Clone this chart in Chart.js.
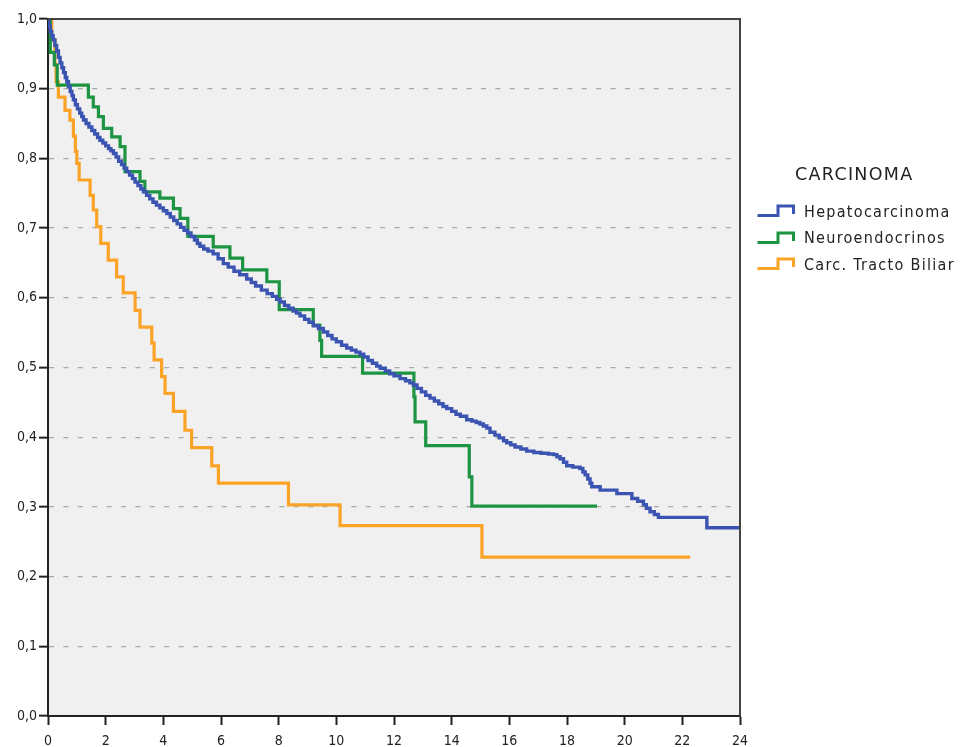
<!DOCTYPE html>
<html>
<head>
<meta charset="utf-8">
<script src="https://cdn.jsdelivr.net/npm/chart.js@4"></script>
<style>
  html, body { margin: 0; padding: 0; background: #ffffff; }
  #wrap { position: relative; width: 960px; height: 747px; }
  #legend { position: absolute; left: 756px; top: 160px; font-family: "DejaVu Sans Condensed", "DejaVu Sans", sans-serif; color: #222; }
  #legend .title { font-family: "DejaVu Sans", sans-serif; font-size: 17.5px; margin-left: 39px; height: 28px; line-height: 28px; letter-spacing: 1.3px; }
  #legend .item { display: flex; align-items: center; height: 26.5px; font-size: 16px; letter-spacing: 1.3px; white-space: nowrap; }
  #legend svg { margin-right: 8px; }
</style>
</head>
<body>
<div id="wrap">
  <canvas id="c" width="960" height="747"></canvas>
  <div id="legend">
    <div class="title">CARCINOMA</div>
    <div style="height:10px"></div>
    <div class="item"><svg width="40" height="16"><path d="M1.5,12.5 H22 V3 H37.5 V11" fill="none" stroke="#3b54b2" stroke-width="3"/></svg>Hepatocarcinoma</div>
    <div class="item"><svg width="40" height="16"><path d="M1.5,12.5 H22 V3 H37.5 V11" fill="none" stroke="#1c9442" stroke-width="3"/></svg>Neuroendocrinos</div>
    <div class="item"><svg width="40" height="16"><path d="M1.5,12.5 H22 V3 H37.5 V11" fill="none" stroke="#fba326" stroke-width="3"/></svg>Carc. Tracto Biliar</div>
  </div>
</div>
<script>
// ---- Data (time, cumulative survival) ----
const seriesNames = ["Hepatocarcinoma", "Neuroendocrinos", "Carc. Tracto Biliar"];
const xTicks = [0, 2, 4, 6, 8, 10, 12, 14, 16, 18, 20, 22, 24];

const hepTimes = [0, 0.03, 0.08, 0.13, 0.18, 0.24, 0.30, 0.36, 0.42, 0.48, 0.54, 0.60, 0.65, 0.71, 0.77, 0.83, 0.88, 0.95, 1.02, 1.10, 1.17, 1.23, 1.32, 1.42, 1.52, 1.62, 1.72, 1.80, 1.90, 2.00, 2.10, 2.18, 2.27, 2.36, 2.45, 2.55, 2.64, 2.73, 2.83, 2.93, 3.02, 3.12, 3.22, 3.31, 3.42, 3.53, 3.64, 3.76, 3.88, 4.00, 4.12, 4.24, 4.36, 4.48, 4.60, 4.72, 4.84, 4.96, 5.08, 5.18, 5.27, 5.40, 5.55, 5.73, 5.90, 6.08, 6.25, 6.45, 6.65, 6.89, 7.05, 7.20, 7.40, 7.60, 7.78, 7.93, 8.05, 8.20, 8.35, 8.50, 8.62, 8.74, 8.90, 9.05, 9.20, 9.38, 9.55, 9.70, 9.85, 10.00, 10.18, 10.36, 10.52, 10.68, 10.82, 10.95, 11.10, 11.25, 11.40, 11.52, 11.70, 11.85, 12.00, 12.21, 12.40, 12.55, 12.67, 12.80, 12.95, 13.10, 13.25, 13.40, 13.55, 13.70, 13.83, 14.00, 14.15, 14.30, 14.52, 14.70, 14.85, 14.98, 15.10, 15.22, 15.33, 15.50, 15.65, 15.80, 15.91, 16.05, 16.20, 16.40, 16.60, 16.85, 17.10, 17.35, 17.53, 17.65, 17.76, 17.88, 17.99, 18.20, 18.45, 18.55, 18.63, 18.72, 18.80, 18.86, 19.15, 19.73, 20.25, 20.45, 20.65, 20.75, 20.88, 21.03, 21.17, 22.85, 24.0];
const hepSurv  = [1.000, 0.990, 0.982, 0.976, 0.970, 0.962, 0.954, 0.945, 0.937, 0.930, 0.923, 0.916, 0.910, 0.903, 0.896, 0.890, 0.884, 0.877, 0.871, 0.865, 0.860, 0.855, 0.850, 0.845, 0.840, 0.835, 0.830, 0.826, 0.822, 0.818, 0.814, 0.811, 0.807, 0.802, 0.796, 0.791, 0.786, 0.781, 0.776, 0.771, 0.766, 0.761, 0.756, 0.752, 0.747, 0.742, 0.737, 0.733, 0.729, 0.725, 0.721, 0.716, 0.711, 0.706, 0.701, 0.697, 0.693, 0.688, 0.683, 0.678, 0.674, 0.670, 0.667, 0.663, 0.656, 0.649, 0.644, 0.638, 0.633, 0.627, 0.622, 0.617, 0.611, 0.606, 0.602, 0.598, 0.594, 0.589, 0.585, 0.581, 0.578, 0.574, 0.569, 0.565, 0.560, 0.556, 0.551, 0.546, 0.541, 0.537, 0.532, 0.528, 0.525, 0.522, 0.519, 0.515, 0.510, 0.506, 0.502, 0.499, 0.495, 0.491, 0.488, 0.484, 0.481, 0.478, 0.475, 0.470, 0.465, 0.460, 0.456, 0.452, 0.448, 0.444, 0.441, 0.437, 0.433, 0.430, 0.425, 0.423, 0.421, 0.419, 0.416, 0.413, 0.407, 0.403, 0.399, 0.395, 0.392, 0.389, 0.386, 0.383, 0.380, 0.378, 0.377, 0.376, 0.375, 0.372, 0.369, 0.364, 0.359, 0.357, 0.355, 0.350, 0.346, 0.340, 0.334, 0.329, 0.324, 0.319, 0.312, 0.308, 0.303, 0.298, 0.293, 0.289, 0.285, 0.270, 0.270];

const neuTimes = [0, 0.08, 0.22, 0.32, 1.40, 1.57, 1.75, 1.92, 2.21, 2.50, 2.67, 3.19, 3.36, 3.88, 4.35, 4.58, 4.85, 5.73, 6.31, 6.75, 7.59, 8.02, 9.20, 9.43, 9.49, 10.91, 12.69, 12.73, 13.10, 14.61, 14.70, 19.04];
const neuSurv  = [1.0, 0.952, 0.934, 0.905, 0.888, 0.874, 0.860, 0.843, 0.831, 0.817, 0.781, 0.767, 0.752, 0.743, 0.728, 0.714, 0.688, 0.673, 0.657, 0.640, 0.623, 0.583, 0.561, 0.539, 0.516, 0.492, 0.458, 0.422, 0.388, 0.343, 0.301, 0.301];

const bilTimes = [0, 0.13, 0.24, 0.28, 0.36, 0.59, 0.76, 0.88, 0.95, 1.00, 1.08, 1.46, 1.57, 1.69, 1.83, 2.09, 2.38, 2.61, 3.02, 3.19, 3.60, 3.68, 3.94, 4.06, 4.35, 4.75, 4.98, 5.68, 5.91, 8.34, 10.13, 15.05, 22.27];
const bilSurv  = [1.0, 0.970, 0.935, 0.910, 0.888, 0.869, 0.855, 0.832, 0.810, 0.793, 0.769, 0.747, 0.726, 0.702, 0.678, 0.654, 0.630, 0.607, 0.582, 0.558, 0.535, 0.511, 0.487, 0.463, 0.437, 0.410, 0.385, 0.359, 0.334, 0.303, 0.273, 0.228, 0.228];

const colors = ["#3b54b2", "#1c9442", "#fba326"];

function pts(ts, vs) { return ts.map((t, i) => ({ x: t, y: vs[i] })); }

const framePlugin = {
  id: 'frame',
  beforeDraw(chart) {
    const { ctx, chartArea: a } = chart;
    ctx.save();
    ctx.fillStyle = '#f0f0f0';
    ctx.fillRect(a.left, a.top, a.right - a.left, a.bottom - a.top);
    ctx.restore();
  },
  afterDatasetsDraw(chart) {
    const { ctx, chartArea: a } = chart;
    ctx.save();
    ctx.strokeStyle = '#444';
    ctx.lineWidth = 2;
    ctx.beginPath();
    ctx.moveTo(a.left, a.top);
    ctx.lineTo(a.right, a.top);
    ctx.lineTo(a.right, a.bottom);
    ctx.stroke();
    ctx.restore();
  }
};

const fontFam = '"DejaVu Sans Condensed", "DejaVu Sans", sans-serif';

new Chart(document.getElementById('c'), {
  type: 'line',
  data: {
    datasets: [
      { label: seriesNames[0], data: pts(hepTimes, hepSurv), borderColor: colors[0], borderWidth: 3.4, stepped: 'before', pointRadius: 0, fill: false },
      { label: seriesNames[1], data: pts(neuTimes, neuSurv), borderColor: colors[1], borderWidth: 3.2, stepped: 'before', pointRadius: 0, fill: false },
      { label: seriesNames[2], data: pts(bilTimes, bilSurv), borderColor: colors[2], borderWidth: 3.2, stepped: 'before', pointRadius: 0, fill: false }
    ]
  },
  options: {
    responsive: false,
    animation: false,
    devicePixelRatio: 1,
    layout: { padding: { top: 19, right: 220, left: 0, bottom: 0 } },
    plugins: { legend: { display: false }, tooltip: { enabled: false } },
    scales: {
      x: {
        type: 'linear', min: 0, max: 24,
        afterBuildTicks(scale) { scale.ticks = xTicks.map(v => ({ value: v })); },
        afterFit(scale) { scale.height = 31; },
        grid: { drawOnChartArea: false, drawTicks: true, tickLength: 9, tickColor: '#222', tickWidth: 2 },
        border: { display: true, color: '#222', width: 2 },
        ticks: { color: '#222', font: { family: fontFam, size: 14 }, padding: 8, maxRotation: 0, autoSkip: false }
      },
      y: {
        type: 'linear', min: 0, max: 1,
        ticks: {
          stepSize: 0.1, color: '#222', padding: 2,
          font: { family: fontFam, size: 14 },
          callback: v => v.toFixed(1).replace('.', ',')
        },
        afterFit(scale) { scale.width = 48; },
        grid: {
          drawTicks: true, tickLength: 9, tickColor: '#222', tickWidth: 2,
          color: c => (c.tick && c.tick.value > 0.001 && c.tick.value < 0.999) ? '#a9a9a9' : 'rgba(0,0,0,0)',
          lineWidth: 1.3
        },
        border: { display: true, color: '#222', width: 2, dash: [5, 9.4] }
      }
    }
  },
  plugins: [framePlugin]
});
</script>
</body>
</html>
